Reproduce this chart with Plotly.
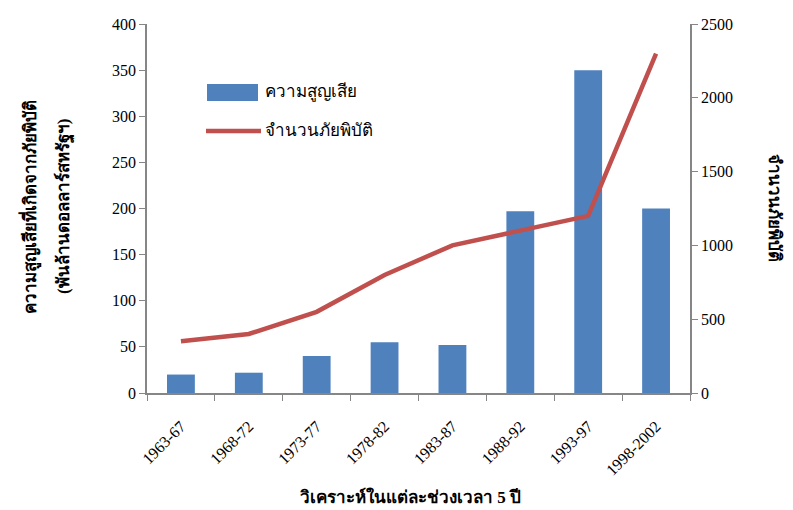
import plotly.graph_objects as go

categories = ["1963-67", "1968-72", "1973-77", "1978-82", "1983-87", "1988-92", "1993-97", "1998-2002"]
losses = [20, 22, 40, 55, 52, 197, 350, 200]
disasters = [350, 400, 550, 800, 1000, 1100, 1200, 2300]

legend_labels = ["ความสูญเสีย", "จำนวนภัยพิบัติ"]
y_title_lines = ["ความสูญเสียที่เกิดจากภัยพิบัติ", "(พันล้านดอลลาร์สหรัฐฯ)"]
y2_title = "จำนวนภัยพิบัติ"
x_title = "วิเคราะห์ในแต่ละช่วงเวลา 5 ปี"

FONT = "Liberation Serif, Times New Roman, serif"
AXIS_COLOR = "#868686"
BAR_COLOR = "#4F81BD"
LINE_COLOR = "#C0504D"

W, H = 793, 510
ML, MR, MT, MB = 147, 103, 24, 117
PW, PH = W - ML - MR, H - MT - MB


def px(xp):
    return (xp - ML) / PW


def py(yp):
    return (H - MB - yp) / PH


fig = go.Figure()
fig.add_trace(go.Bar(
    x=categories, y=losses, name=legend_labels[0],
    marker=dict(color=BAR_COLOR, line=dict(width=0)),
    width=0.41, yaxis="y", showlegend=False,
))
fig.add_trace(go.Scatter(
    x=categories, y=disasters, name=legend_labels[1],
    mode="lines", line=dict(color=LINE_COLOR, width=4.5),
    yaxis="y2", showlegend=False,
))

fig.update_layout(
    width=W, height=H,
    margin=dict(l=ML, r=MR, t=MT, b=MB),
    paper_bgcolor="white", plot_bgcolor="white",
    font=dict(family=FONT, size=16, color="black"),
    showlegend=False,
    xaxis=dict(
        type="category", range=[-0.5, 7.5],
        showline=True, linecolor=AXIS_COLOR, linewidth=1.5,
        ticks="outside", tickson="boundaries", ticklen=6, tickcolor=AXIS_COLOR,
        tickangle=-45, tickfont=dict(size=16, family=FONT),
        ticklabelstandoff=16,
        showgrid=False, zeroline=False,
    ),
    yaxis=dict(
        range=[0, 400], tickvals=[0, 50, 100, 150, 200, 250, 300, 350, 400],
        showline=True, linecolor=AXIS_COLOR, linewidth=1.5,
        ticks="outside", ticklen=6, tickcolor=AXIS_COLOR,
        tickfont=dict(size=16, family=FONT),
        showgrid=False, zeroline=False,
    ),
    yaxis2=dict(
        range=[0, 2500], tickvals=[0, 500, 1000, 1500, 2000, 2500],
        overlaying="y", side="right",
        showline=True, linecolor=AXIS_COLOR, linewidth=1.5,
        ticks="outside", ticklen=6, tickcolor=AXIS_COLOR,
        tickfont=dict(size=16, family=FONT),
        showgrid=False, zeroline=False,
    ),
)

# Legend (drawn manually to match wide swatches)
fig.add_shape(type="rect", xref="paper", yref="paper",
              x0=px(207), x1=px(258), y0=py(101), y1=py(84),
              fillcolor=BAR_COLOR, line=dict(width=0))
fig.add_shape(type="line", xref="paper", yref="paper",
              x0=px(206), x1=px(261), y0=py(131), y1=py(131),
              line=dict(color=LINE_COLOR, width=4.5))
fig.add_annotation(text=legend_labels[0], xref="paper", yref="paper",
                   x=px(263), y=py(92), xanchor="left", yanchor="middle",
                   showarrow=False, font=dict(size=17, family=FONT))
fig.add_annotation(text=legend_labels[1], xref="paper", yref="paper",
                   x=px(263), y=py(130), xanchor="left", yanchor="middle",
                   showarrow=False, font=dict(size=17, family=FONT))

# Axis titles
fig.add_annotation(
    text="<b>" + y_title_lines[0] + "</b>",
    xref="paper", yref="paper", x=px(30), y=py(207),
    xanchor="center", yanchor="middle",
    textangle=-90, showarrow=False, font=dict(size=17, family=FONT),
)
fig.add_annotation(
    text="<b>" + y_title_lines[1] + "</b>",
    xref="paper", yref="paper", x=px(64), y=py(207),
    xanchor="center", yanchor="middle",
    textangle=-90, showarrow=False, font=dict(size=17, family=FONT),
)
fig.add_annotation(
    text="<b>" + y2_title + "</b>",
    xref="paper", yref="paper", x=px(775), y=py(208),
    xanchor="center", yanchor="middle",
    textangle=90, showarrow=False, font=dict(size=17, family=FONT),
)
fig.add_annotation(
    text="<b>" + x_title + "</b>",
    xref="paper", yref="paper", x=px(410), y=py(497),
    xanchor="center", yanchor="middle",
    showarrow=False, font=dict(size=17, family=FONT),
)

fig.write_html("out.html")
